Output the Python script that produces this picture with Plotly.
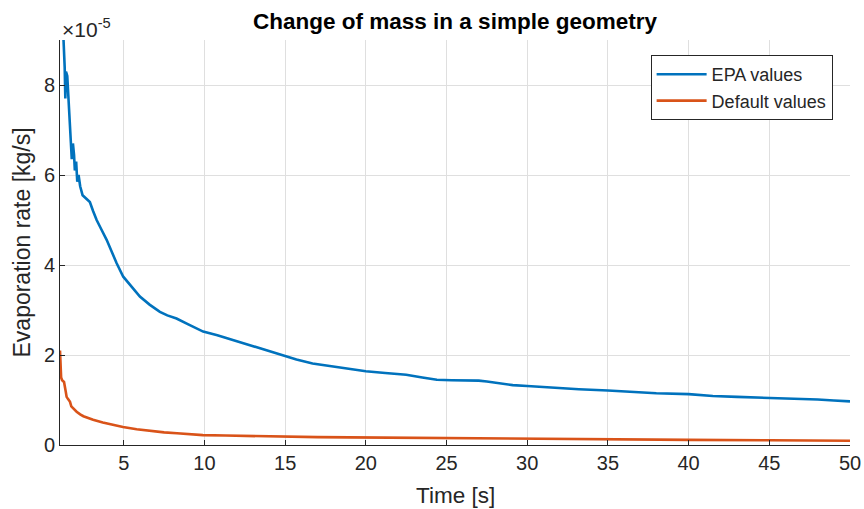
import plotly.graph_objects as go

# Time [s]
epa_time = [1.15, 1.25, 1.34, 1.38, 1.42, 1.50, 1.58, 1.66, 1.72, 1.78, 1.85, 1.92, 1.97, 2.05,
            2.12, 2.20, 2.30, 2.45, 2.60, 2.90, 3.10, 3.32, 3.60, 3.94, 4.25, 4.56, 4.97, 5.5,
            6.0, 6.6, 7.24, 7.7, 8.27, 9.0, 9.92, 10.8, 11.6, 12.6, 13.6, 14.7, 15.7, 16.7,
            18.0, 19.0, 20.0, 21.2, 22.5, 23.5, 24.4, 25.3, 26.2, 27.0, 27.5, 28.3, 29.1, 30.0,
            31.2, 32.2, 33.2, 35.0, 36.5, 38.0, 40.0, 41.5, 43.0, 45.0, 46.5, 48.0, 49.0, 50.0]
# Evaporation rate, in units of 1e-5 kg/s
epa_rate_e5 = [10.0, 9.2, 8.4, 7.7, 8.3, 8.2, 7.7, 7.2, 6.9, 6.35, 6.7, 6.45, 6.1, 6.3,
               5.85, 6.0, 5.75, 5.55, 5.5, 5.4, 5.2, 5.0, 4.8, 4.56, 4.3, 4.04, 3.74, 3.5,
               3.30, 3.12, 2.96, 2.88, 2.81, 2.68, 2.52, 2.44, 2.35, 2.24, 2.13, 2.0, 1.9, 1.81,
               1.74, 1.70, 1.64, 1.60, 1.56, 1.50, 1.45, 1.44, 1.44, 1.43, 1.41, 1.37, 1.33, 1.31,
               1.28, 1.26, 1.24, 1.21, 1.18, 1.15, 1.13, 1.09, 1.07, 1.05, 1.03, 1.01, 0.99, 0.97]

default_time = [1.05, 1.08, 1.12, 1.18, 1.30, 1.40, 1.46, 1.55, 1.67, 1.75, 1.85, 1.95, 2.08,
                2.3, 2.5, 2.8, 3.1, 3.7, 4.3, 4.95, 5.8, 6.6, 7.5, 8.3, 9.9, 11.3, 12.8, 14.9,
                17.0, 19.0, 22.0, 25.0, 28.0, 31.0, 35.0, 40.0, 45.0, 50.0]
default_rate_e5 = [2.1, 1.9, 1.5, 1.44, 1.4, 1.2, 1.07, 1.02, 0.96, 0.86, 0.82, 0.78, 0.74,
                   0.68, 0.64, 0.60, 0.56, 0.50, 0.45, 0.40, 0.35, 0.31, 0.28, 0.26, 0.22, 0.21,
                   0.20, 0.18, 0.175, 0.17, 0.16, 0.155, 0.15, 0.13, 0.125, 0.115, 0.105, 0.095]

x_ticks = [5, 10, 15, 20, 25, 30, 35, 40, 45, 50]
y_ticks = [0, 2, 4, 6, 8]

FONT = "Liberation Sans, Arial, Helvetica, sans-serif"
TXT = "#262626"

fig = go.Figure()
fig.add_trace(go.Scatter(x=epa_time, y=epa_rate_e5, mode="lines", name="EPA values",
                         line=dict(color="#0072BD", width=2.6)))
fig.add_trace(go.Scatter(x=default_time, y=default_rate_e5, mode="lines", name="Default values",
                         line=dict(color="#D95319", width=2.6)))

axis_common = dict(showgrid=True, gridcolor="#dfdfdf", gridwidth=1, zeroline=False,
                   showline=True, linecolor=TXT, linewidth=1, mirror=False,
                   ticks="inside", ticklen=5, tickcolor=TXT, tickwidth=1,
                   tickfont=dict(family=FONT, size=20, color=TXT), automargin=False)

fig.update_xaxes(range=[1.05, 50], tickvals=x_ticks, **axis_common)
fig.update_yaxes(range=[0, 9], tickvals=y_ticks, **axis_common)

fig.update_layout(
    width=864, height=509,
    margin=dict(l=60, r=14, t=40, b=64),
    plot_bgcolor="white", paper_bgcolor="white",
    font=dict(family=FONT, color=TXT),
    title=dict(text="<b>Change of mass in a simple geometry</b>", x=0.5, xref="paper",
               xanchor="center", y=1 - 21 / 509, yref="container", yanchor="middle",
               font=dict(family=FONT, size=22.5, color="#000000")),
    legend=dict(x=0.978, y=0.963, xanchor="right", yanchor="top",
                bgcolor="white", bordercolor=TXT, borderwidth=1, itemwidth=50,
                font=dict(family=FONT, size=18, color=TXT), tracegroupgap=0),
    showlegend=True,
    annotations=[
        dict(text="×10<sup>-5</sup>", x=0, xref="paper", y=1, yref="paper",
             xanchor="left", yanchor="bottom", showarrow=False, yshift=-3,
             font=dict(family=FONT, size=21, color=TXT)),
        dict(text="Evaporation rate [kg/s]", x=(21 - 60) / 790, xref="paper", y=0.5,
             yref="paper", xanchor="center", yanchor="middle", textangle=-90,
             showarrow=False, font=dict(family=FONT, size=23, color=TXT)),
        dict(text="Time [s]", x=0.5, xref="paper", y=0, yref="paper",
             xanchor="center", yanchor="middle", yshift=-50, showarrow=False,
             font=dict(family=FONT, size=22.5, color=TXT)),
    ],
)

fig.write_html("out.html")
